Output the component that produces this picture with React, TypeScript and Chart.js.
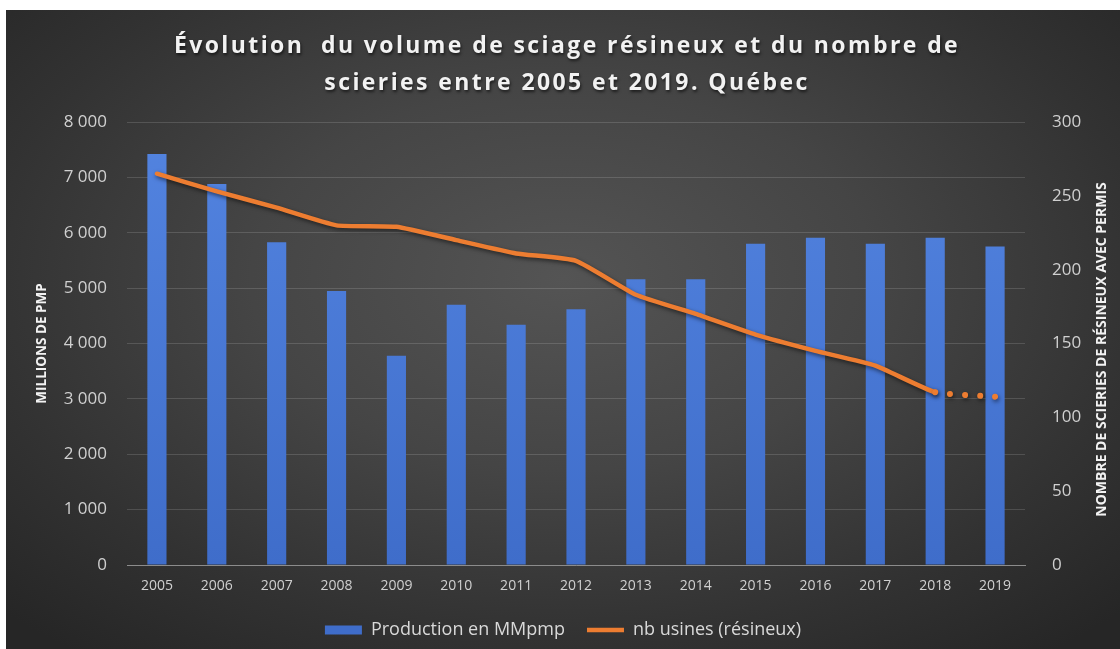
import React, { useEffect, useRef } from 'react';
import { Chart, registerables } from 'chart.js';

Chart.register(...registerables);

const years = ['2005', '2006', '2007', '2008', '2009', '2010', '2011', '2012', '2013', '2014', '2015', '2016', '2017', '2018', '2019'];
const production = [7420, 6880, 5830, 4950, 3780, 4700, 4340, 4620, 5160, 5160, 5800, 5910, 5800, 5910, 5750];
const usines = [265, 253, 242, 230, 229, 220, 211, 206, 183, 170, 156, 145, 135, 117, 114];

const titleLines = ['Évolution  du volume de sciage résineux et du nombre de', 'scieries entre 2005 et 2019. Québec'];
const leftTitle = 'MILLIONS DE PMP';
const rightTitle = 'NOMBRE DE SCIERIES DE RÉSINEUX AVEC PERMIS';
const barLabel = 'Production en MMpmp';
const lineLabel = 'nb usines (résineux)';

const W = 1114;
const H = 639;

const fmt = (v: number) => String(v).replace(/\B(?=(\d{3})+(?!\d))/g, ' ');

export default function App() {
  const ref = useRef<HTMLCanvasElement | null>(null);

  useEffect(() => {
    if (!ref.current) return;

    const lineShadow = {
      id: 'lineShadow',
      beforeDatasetDraw(chart: any, args: any) {
        if (args.index === 1) {
          const c = chart.ctx;
          c.save();
          c.shadowColor = 'rgba(0,0,0,0.55)';
          c.shadowBlur = 4;
          c.shadowOffsetX = 1;
          c.shadowOffsetY = 2;
        }
      },
      afterDatasetDraw(chart: any, args: any) {
        if (args.index === 1) chart.ctx.restore();
      },
    };

    const rightTitlePlugin = {
      id: 'rightTitle',
      afterDraw(chart: any) {
        const c = chart.ctx;
        const a = chart.chartArea;
        c.save();
        c.translate(1096, (a.top + a.bottom) / 2 + 6);
        c.rotate(-Math.PI / 2);
        c.font = 'bold 14px "Open Sans"';
        c.fillStyle = '#f2f2f2';
        c.textAlign = 'center';
        c.textBaseline = 'middle';
        c.fillText(rightTitle, 0, 0);
        c.restore();
      },
    };

    const chart = new Chart(ref.current, {
      type: 'bar',
      data: {
        labels: years,
        datasets: [
          {
            type: 'bar',
            label: barLabel,
            data: production,
            yAxisID: 'y',
            order: 1,
            backgroundColor: (ctx: any) => {
              const a = ctx.chart.chartArea;
              if (!a) return '#4a7bd6';
              const g = ctx.chart.ctx.createLinearGradient(0, a.top, 0, a.bottom);
              g.addColorStop(0, '#5384e0');
              g.addColorStop(1, '#3f6dca');
              return g;
            },
            borderWidth: 0,
            categoryPercentage: 1,
            barPercentage: 0.32,
            pointStyle: 'rect',
          } as any,
          {
            type: 'line',
            label: lineLabel,
            data: usines,
            yAxisID: 'y1',
            order: 0,
            borderColor: '#ed7d31',
            backgroundColor: '#ed7d31',
            borderWidth: 4.5,
            borderCapStyle: 'round',
            borderJoinStyle: 'round',
            pointRadius: 0,
            pointHoverRadius: 0,
            pointStyle: 'line',
            tension: 0.15,
            segment: {
              borderDash: (s: any) => (s.p0DataIndex === 13 ? [0.01, 15] : undefined),
              borderWidth: (s: any) => (s.p0DataIndex === 13 ? 6 : undefined),
            },
          } as any,
        ],
      },
      options: {
        responsive: false,
        animation: false,
        maintainAspectRatio: false,
        layout: { padding: { top: 112, left: 0, right: 0, bottom: 0 } },
        plugins: {
          title: { display: false },
          tooltip: { enabled: false },
          legend: {
            position: 'bottom',
            labels: {
              usePointStyle: true,
              pointStyleWidth: 37,
              boxHeight: 9,
              color: '#d9d9d9',
              font: { family: 'Open Sans', size: 18 },
              padding: 22,
              sort: (a: any, b: any) => a.datasetIndex - b.datasetIndex,
            },
          },
        },
        scales: {
          x: {
            grid: { display: false, drawTicks: false },
            border: { display: true, color: '#8c8c8c', width: 1 },
            afterFit: (s: any) => { s.height = 34; },
            ticks: { color: '#d0d0d0', font: { family: 'Open Sans', size: 14 }, padding: 13, maxRotation: 0, autoSkip: false },
          },
          y: {
            position: 'left',
            min: 0,
            max: 8000,
            afterFit: (s: any) => { s.width = 121; },
            ticks: { stepSize: 1000, color: '#d0d0d0', font: { family: 'Open Sans', size: 17 }, padding: 20, callback: (v: any) => fmt(Number(v)) },
            grid: { color: 'rgba(255,255,255,0.14)', drawTicks: false, lineWidth: 1 },
            border: { display: false },
            title: { display: true, text: leftTitle, color: '#f2f2f2', font: { family: 'Open Sans', size: 13.5, weight: 'bold' }, padding: { top: 28, bottom: 0 } },
          },
          y1: {
            position: 'right',
            min: 0,
            max: 300,
            afterFit: (s: any) => { s.width = 95; },
            ticks: { stepSize: 50, color: '#d0d0d0', font: { family: 'Open Sans', size: 17 }, padding: 27 },
            grid: { display: false, drawTicks: false },
            border: { display: false },
          },
        },
      },
      plugins: [lineShadow, rightTitlePlugin],
    } as any);

    return () => chart.destroy();
  }, []);

  return (
    <div style={{ position: 'fixed', left: 0, top: 0, width: 1120, height: 649, background: '#ffffff', overflow: 'hidden' }}>
      <div
        style={{
          position: 'absolute',
          left: 6,
          top: 10,
          width: W,
          height: H,
          background: 'radial-gradient(ellipse 70% 75% at 50% 42%, #545454 0%, #454545 40%, #323232 75%, #262626 100%)',
        }}
      >
        <canvas ref={ref} width={W} height={H} style={{ position: 'absolute', left: 0, top: 0, width: W, height: H }} />
        <div
          style={{
            position: 'absolute',
            left: 4,
            top: 16,
            width: W,
            textAlign: 'center',
            fontFamily: '"Open Sans", sans-serif',
            fontWeight: 700,
            fontSize: 23,
            lineHeight: '37px',
            letterSpacing: '2.4px',
            color: '#f2f2f2',
            textShadow: '1px 2px 3px rgba(0,0,0,0.6)',
            whiteSpace: 'pre',
          }}
        >
          {titleLines.map((t, i) => (
            <div key={i}>{t}</div>
          ))}
        </div>
      </div>
    </div>
  );
}
